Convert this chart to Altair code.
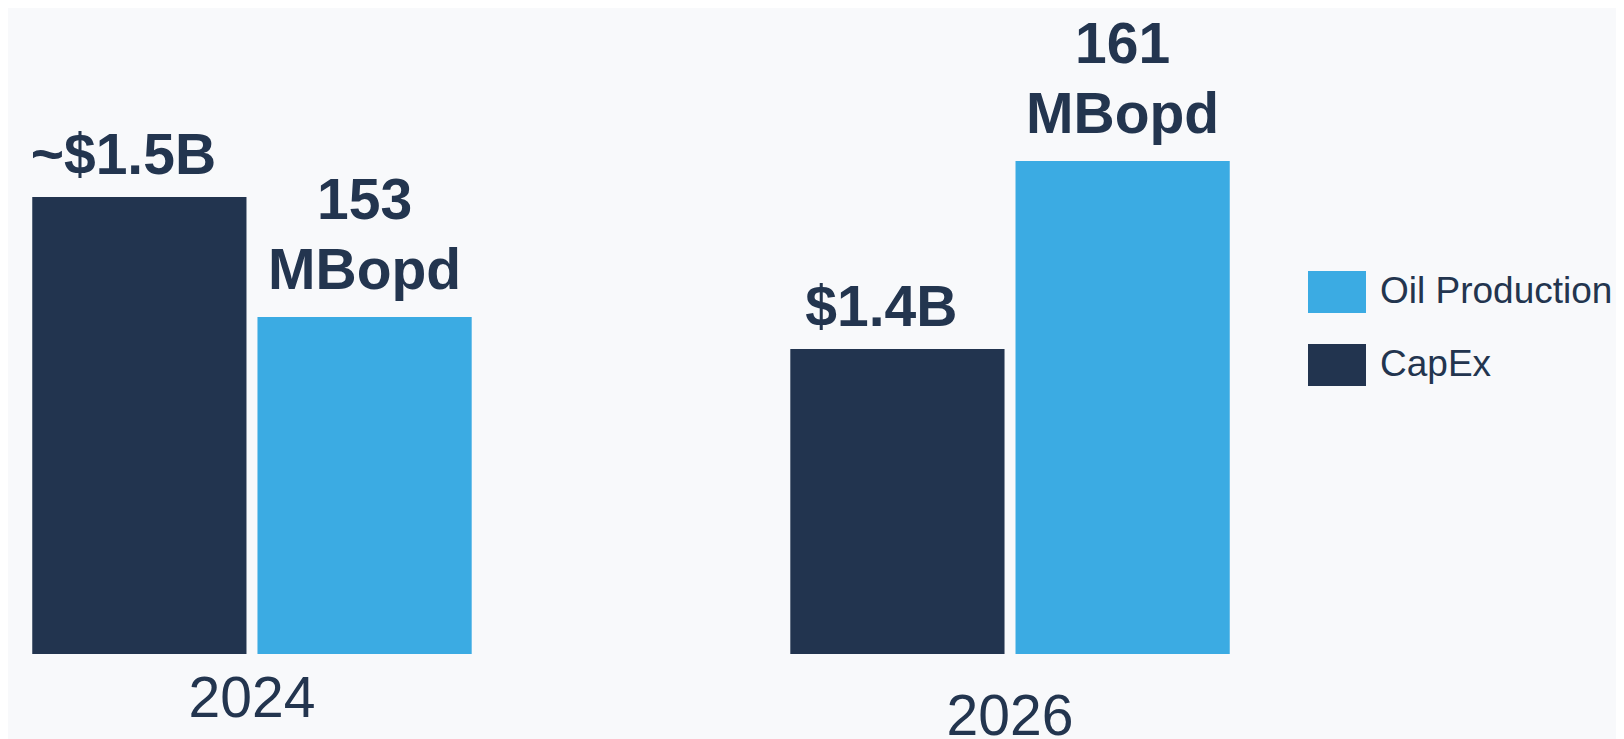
import altair as alt
import pandas as pd

# ---- data ----
years = ["2024", "2026"]
series = ["CapEx", "Oil Production"]
# bar heights as drawn (illustrative, not to scale with the labels)
capex_heights = [457, 305]
oil_heights = [337, 493]
capex_labels = ["~$1.5B", "$1.4B"]
oil_labels = ["153\nMBopd", "161\nMBopd"]

legend_order = ["Oil Production", "CapEx"]
colors = ["#3BABE3", "#22344F"]
text_color = "#23354F"
bg = "#F8F9FB"
FONT = "Liberation Sans"

rows = []
for i, y in enumerate(years):
    rows.append({"year": y, "series": "CapEx", "h": capex_heights[i], "label": capex_labels[i]})
    rows.append({"year": y, "series": "Oil Production", "h": oil_heights[i], "label": oil_labels[i]})
df = pd.DataFrame(rows)

x_enc = alt.X(
    "year:N",
    title=None,
    scale=alt.Scale(paddingInner=0.4203, paddingOuter=0.032),
    axis=alt.Axis(
        labelAngle=0,
        labelFontSize=57,
        labelFont=FONT,
        labelColor=text_color,
        domain=False,
        ticks=False,
        tickSize=0,
        labelPadding={"condition": {"test": "datum.value === '2026'", "value": 35}, "value": 17},
    ),
)
xoff = alt.XOffset("series:N", sort=series, scale=alt.Scale(paddingInner=0.0488, paddingOuter=0))
y_enc = alt.Y("h:Q", axis=None, scale=alt.Scale(domain=[0, 646], nice=False, zero=True))

base = alt.Chart(df)

bars = base.mark_bar(cornerRadius=0).encode(
    x=x_enc,
    xOffset=xoff,
    y=y_enc,
    color=alt.Color(
        "series:N",
        scale=alt.Scale(domain=legend_order, range=colors),
        legend=alt.Legend(
            title=None,
            orient="none",
            legendX=1300,
            legendY=255,
            symbolType="M-1,-0.724L1,-0.724L1,0.724L-1,0.724Z",
            symbolSize=3364,
            symbolStrokeWidth=0,
            labelFontSize=37,
            labelFont=FONT,
            labelColor=text_color,
            labelOffset=14,
            labelLimit=400,
            rowPadding=23,
        ),
    ),
)

capex_text = base.transform_filter(alt.datum.series == "CapEx").mark_text(
    baseline="bottom", align="center", fontSize=57, fontWeight="bold", font=FONT,
    color=text_color, lineBreak="\n", lineHeight=70, dy=-11, dx=-16,
).encode(x=x_enc, xOffset=xoff, y=y_enc, text="label:N")

oil_text = base.transform_filter(alt.datum.series == "Oil Production").mark_text(
    baseline="bottom", align="center", fontSize=57, fontWeight="bold", font=FONT,
    color=text_color, lineBreak="\n", lineHeight=70, dy=-86,
).encode(x=x_enc, xOffset=xoff, y=y_enc, text="label:N")

chart = (
    alt.layer(bars, capex_text, oil_text)
    .properties(
        width=1246,
        height=646,
        autosize=alt.AutoSizeParams(type="none"),
        padding={"left": 0, "top": 0, "right": 362, "bottom": 85},
        background=bg,
    )
    .configure_view(stroke=None, fill=bg)
)

chart.save("out.html", embed_options={"renderer": "svg", "actions": False})
